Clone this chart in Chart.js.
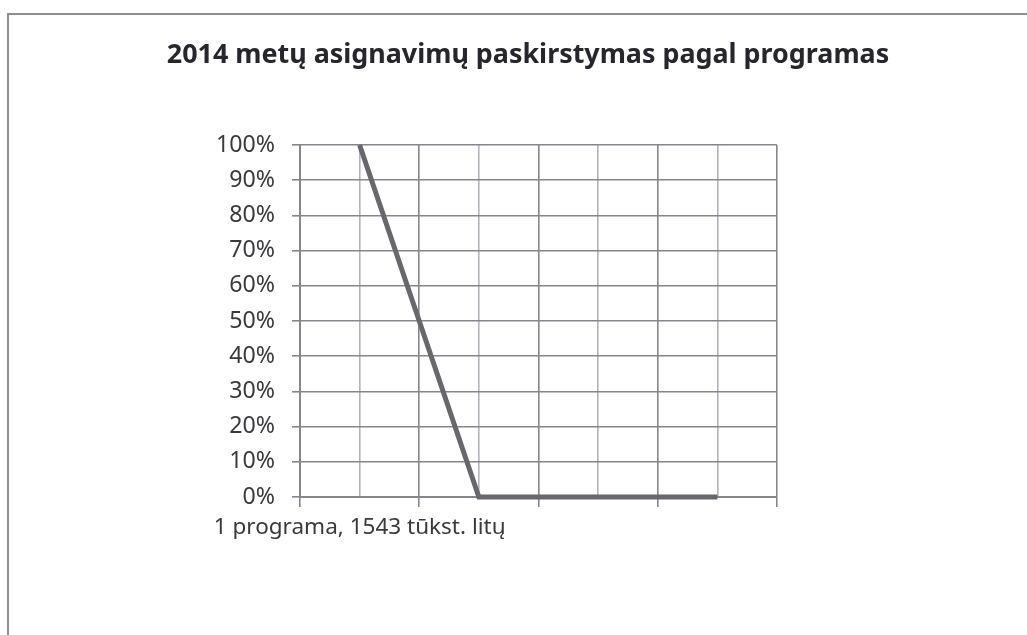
<!DOCTYPE html>
<html><head><meta charset="utf-8">
<script src="https://cdn.jsdelivr.net/npm/chart.js@4/dist/chart.umd.min.js"></script>
<style>
html,body{margin:0;padding:0;background:#fff;overflow:hidden}
#wrap{position:relative;width:1027px;height:635px;overflow:hidden}
#frame{position:absolute;left:7px;top:13px;width:1060px;height:660px;border:2px solid #8d8e96;box-sizing:border-box}
canvas{position:absolute;left:0;top:0}
</style></head><body>
<div id="wrap"><div id="frame"></div><canvas id="c" width="1027" height="635"></canvas></div>
<script>
// ---- data ----
const chartTitle = "2014 metų asignavimų paskirstymas pagal programas";
const categories = ["1 programa, 1543 tūkst. litų", "", "", ""];
const shares = [100, 0, 0, 0];           // percent of allocations
const yTickValues = [0, 10, 20, 30, 40, 50, 60, 70, 80, 90, 100];

// ---- style / layout ----
const FAMILY = "'Noto Sans', 'Open Sans', sans-serif";
function fitSize(text, weight, target) {
  const ctx = document.createElement('canvas').getContext('2d');
  ctx.font = weight + " 100px " + FAMILY;
  return 100 * target / ctx.measureText(text).width;
}
const titleSize = fitSize(chartTitle, 'bold', 723);
const tickSize = fitSize('100%', 'normal', 59);
const catSize = fitSize(categories[0], 'normal', 292);

const W = 1027, H = 635;
const AREA = {left: 300, right: 777, top: 145, bottom: 497};
const TITLE_CX = 528, TITLE_CY = 55;
const padL = 140;
const padR = padL + W - 2 * TITLE_CX;
const rightAxisW = (W - padR) - AREA.right;
const titleH = titleSize * 1.2;

const DARK = '#86868c', LIGHT = '#b3b3bd', LINE = '#68686c', TEXT = '#3a3a3e';

new Chart(document.getElementById('c'), {
  type: 'line',
  data: {
    datasets: [{
      data: shares.map((v, i) => ({x: 2 * i + 1, y: v})),
      borderColor: LINE, borderWidth: 5, pointRadius: 0, tension: 0, clip: false
    }]
  },
  options: {
    responsive: false, animation: false, devicePixelRatio: 1,
    layout: {padding: {left: padL, right: padR, top: 0, bottom: 0}},
    plugins: {
      legend: {display: false}, tooltip: {enabled: false},
      title: {
        display: true, text: chartTitle, color: '#26262c',
        font: {family: FAMILY, weight: 'bold', size: titleSize, lineHeight: 1.2},
        padding: {top: TITLE_CY - titleH / 2, bottom: AREA.top - TITLE_CY - titleH / 2}
      }
    },
    scales: {
      x: {
        type: 'linear', min: 0, max: 2 * categories.length,
        afterFit: s => { s.height = H - AREA.bottom; },
        afterBuildTicks: s => { s.ticks = Array.from({length: 2 * categories.length + 1}, (_, i) => ({value: i})); },
        ticks: {
          autoSkip: false, maxRotation: 0, minRotation: 0, padding: 7,
          color: TEXT, font: {family: FAMILY, size: catSize},
          callback: v => (v % 2 === 1 ? categories[(v - 1) / 2] : '')
        },
        grid: {
          color: c => (c.tick && c.tick.value % 2 === 0 ? DARK : LIGHT),
          tickColor: c => (c.tick && c.tick.value % 2 === 0 ? DARK : 'rgba(0,0,0,0)'),
          lineWidth: 1.6, tickLength: 10
        },
        border: {color: DARK, width: 2}
      },
      y: {
        min: 0, max: 100,
        afterFit: s => { s.width = AREA.left - padL; },
        afterBuildTicks: s => { s.ticks = yTickValues.map(v => ({value: v})); },
        ticks: {
          autoSkip: false, padding: 17, color: TEXT, font: {family: FAMILY, size: tickSize},
          callback: v => v + '%'
        },
        grid: {color: DARK, lineWidth: 1.6, tickLength: 8},
        border: {color: DARK, width: 2}
      },
      spacer: {
        type: 'linear', position: 'right', display: true,
        afterFit: s => { s.width = rightAxisW; },
        grid: {display: false, drawTicks: false}, ticks: {display: false}, border: {display: false}
      }
    }
  }
});
</script>
</body></html>
